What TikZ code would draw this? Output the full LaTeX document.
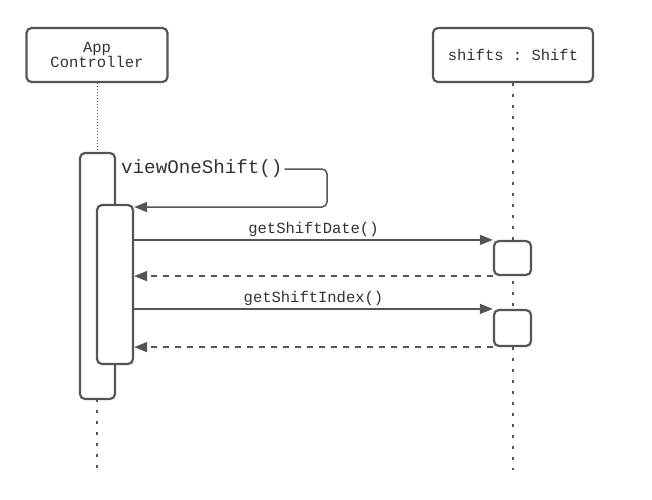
\documentclass[tikz,border=0pt]{standalone}
\usepackage{fontspec}
\setmonofont{Liberation Mono}
\usetikzlibrary{arrows.meta}
\definecolor{lc}{HTML}{555555}
\definecolor{tc}{HTML}{333333}
\begin{document}
\begin{tikzpicture}[x=1pt,y=-1pt,
  obj/.style={draw=lc, line width=2.2pt, rounded corners=5pt, fill=white, align=center, text=tc,
    font=\ttfamily\fontsize{15.5}{16}\selectfont, inner sep=0pt},
  act/.style={draw=lc, line width=2.2pt, rounded corners=5pt, fill=white, inner sep=0pt},
  life/.style={draw=lc, line width=1.3pt, dash pattern=on 3pt off 8pt},
  lifetop/.style={draw=lc, line width=1pt, dash pattern=on 1pt off 2pt},
  msg/.style={draw=lc, line width=1.5pt, -{Triangle[length=13pt,width=10pt]}},
  ret/.style={msg, dash pattern=on 6pt off 6pt},
  lbl/.style={text=tc, font=\ttfamily\fontsize{15.5}{16}\selectfont, inner sep=2pt}
]
\useasboundingbox (0,0) rectangle (652,499);
% lifeline heads
\node[obj, minimum width=141pt, minimum height=54pt] (ac) at (97,55) {App\\[-1pt]Controller};
\node[obj, minimum width=160pt, minimum height=54pt] (sh) at (513,55) {shifts : Shift};
% lifelines
\coordinate (acend) at (97,470);
\coordinate (shend) at (513,470);
\draw[lifetop] (ac.south) -- (97,153);
\draw[life] (97,399) -- (acend);
\draw[life] (sh.south) -- (shend);
% activations
\node[act, minimum width=35pt, minimum height=246pt] (out) at (97.5,276) {};
\node[act, minimum width=36pt, minimum height=159pt] (in1) at (115,284.5) {};
\node[act, minimum width=37pt, minimum height=34pt] (r1) at (512.5,258) {};
\node[act, minimum width=37pt, minimum height=36pt] (r2) at (512.5,328) {};
% self message
\node[text=tc, font=\ttfamily\fontsize{19.2}{20}\selectfont, inner sep=2pt, anchor=west] (vl) at (119,169) {viewOneShift()};
\coordinate (ys) at (0,207);
\draw[msg, rounded corners=5pt] (vl.east) -- (327,169) -- (327,207) -- (in1.east |- ys);
% calls
\draw[msg] (in1.east |- r1.north) -- (r1.north west)
  node[midway, above, lbl] (l1) {getShiftDate()};
\draw[ret] (r1.south west) -- (in1.east |- r1.south);
\draw[msg] (in1.east |- r2.north) -- (r2.north west)
  node[midway, above, lbl] (l2) {getShiftIndex()};
\draw[ret] (r2.south west) -- (in1.east |- r2.south);
\end{tikzpicture}
\end{document}
